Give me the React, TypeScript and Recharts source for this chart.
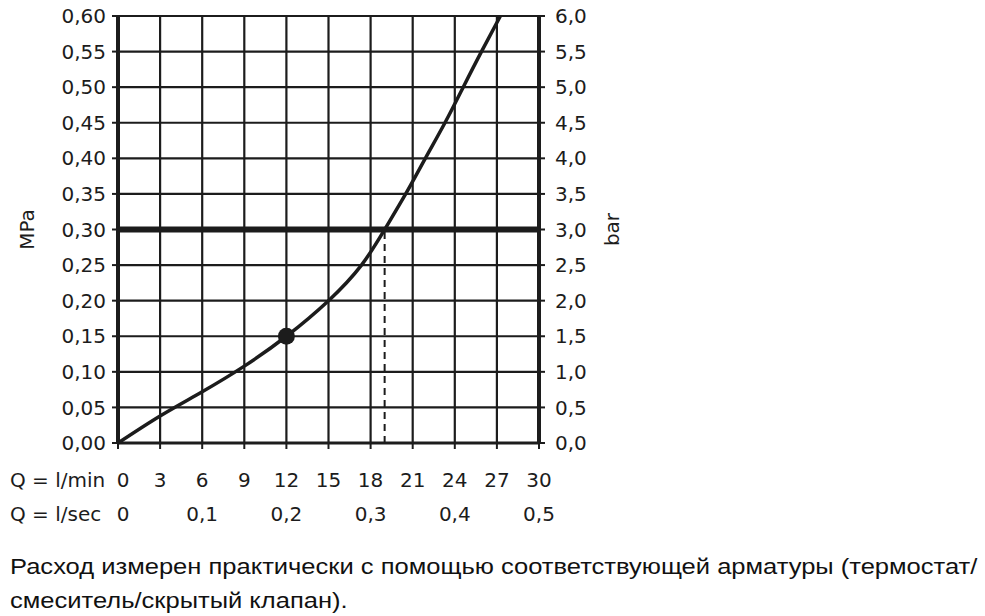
import React from "react";
import {
  CartesianGrid,
  Line,
  LineChart,
  ReferenceDot,
  ReferenceLine,
  XAxis,
  YAxis,
} from "recharts";

// Flow (l/min) vs. pressure (MPa).
const FLOW = [0, 3, 6, 9, 12, 15, 17.35, 19, 20.5, 21.9, 23.3, 24.6, 25.9, 27.25];
const MPA = [0, 0.038, 0.072, 0.108, 0.15, 0.2, 0.25, 0.3, 0.35, 0.4, 0.45, 0.5, 0.55, 0.6];

const FLOW_TICKS = [0, 3, 6, 9, 12, 15, 18, 21, 24, 27, 30];
const SEC_LABELS: Record<number, string> = {
  0: "0",
  6: "0,1",
  12: "0,2",
  18: "0,3",
  24: "0,4",
  30: "0,5",
};
const MPA_TICKS = [0, 0.05, 0.1, 0.15, 0.2, 0.25, 0.3, 0.35, 0.4, 0.45, 0.5, 0.55, 0.6];
const BAR_TICKS = [0, 0.5, 1, 1.5, 2, 2.5, 3, 3.5, 4, 4.5, 5, 5.5, 6];

const NOMINAL_MPA = 0.3; // thick reference line
const NOMINAL_FLOW = 19; // dashed drop line
const MARK = { q: 12, p: 0.15 };

const NOTE_1 = "Расход измерен практически с помощью соответствующей арматуры (термостат/";
const NOTE_2 = "смеситель/скрытый клапан).";

const data = FLOW.map((q, i) => ({ q, p: MPA[i] }));

const INK = "#1c1c1c";
const FONT = "'DejaVu Sans', sans-serif";
const TICK_SIZE = 20;
const comma = (v: number, d: number) => v.toFixed(d).replace(".", ",");

function FlowTick(props: any) {
  const { x, payload } = props;
  const v = payload.value as number;
  const dx = v === 0 ? 5 : 0;
  return (
    <g fontFamily={FONT} fontSize={TICK_SIZE} fill={INK}>
      {v === 0 && (
        <>
          <text x={10} y={487} textAnchor="start">Q = l/min</text>
          <text x={10} y={521} textAnchor="start">Q = l/sec</text>
        </>
      )}
      <text x={x + dx} y={487} textAnchor="middle">{v}</text>
      {SEC_LABELS[v] !== undefined && (
        <text x={x + dx} y={521} textAnchor="middle">{SEC_LABELS[v]}</text>
      )}
    </g>
  );
}

export default function App() {
  return (
    <div
      style={{
        position: "absolute",
        left: 0,
        top: 0,
        width: 985,
        height: 616,
        background: "#fff",
      }}
    >
      <LineChart
        width={985}
        height={540}
        data={data}
        margin={{ top: 16, left: 58, right: 386, bottom: 37 }}
      >
        <CartesianGrid yAxisId="mpa" stroke={INK} strokeWidth={2.2} />
        <XAxis
          dataKey="q"
          type="number"
          domain={[0, 30]}
          ticks={FLOW_TICKS}
          height={60}
          tickSize={6}
          axisLine={{ stroke: INK, strokeWidth: 3 }}
          tickLine={{ stroke: INK, strokeWidth: 2 }}
          tick={<FlowTick />}
          interval={0}
        />
        <YAxis
          yAxisId="mpa"
          type="number"
          domain={[0, 0.6]}
          ticks={MPA_TICKS}
          width={60}
          interval={0}
          tickSize={6}
          tickMargin={6}
          tickFormatter={(v: number) => comma(v, 2)}
          axisLine={{ stroke: INK, strokeWidth: 4 }}
          tickLine={{ stroke: INK, strokeWidth: 2 }}
          tick={{ fontFamily: FONT, fontSize: TICK_SIZE, fill: INK }}
          label={{
            value: "MPa",
            angle: -90,
            position: "insideLeft",
            offset: -31,
            style: { fontFamily: FONT, fontSize: 20, fill: INK, textAnchor: "middle" },
          }}
        />
        <YAxis
          yAxisId="bar"
          orientation="right"
          type="number"
          domain={[0, 6]}
          allowDataOverflow
          ticks={BAR_TICKS}
          width={60}
          interval={0}
          tickSize={6}
          tickMargin={10}
          tickFormatter={(v: number) => comma(v, 1)}
          axisLine={{ stroke: INK, strokeWidth: 4 }}
          tickLine={{ stroke: INK, strokeWidth: 2 }}
          tick={{ fontFamily: FONT, fontSize: TICK_SIZE, fill: INK }}
          label={{
            value: "bar",
            angle: -90,
            position: "insideRight",
            offset: -13,
            style: { fontFamily: FONT, fontSize: 20, fill: INK, textAnchor: "middle" },
          }}
        />
        <ReferenceLine
          yAxisId="mpa"
          y={NOMINAL_MPA}
          stroke={INK}
          strokeWidth={6}
        />
        <ReferenceLine
          yAxisId="mpa"
          segment={[
            { x: NOMINAL_FLOW, y: 0 },
            { x: NOMINAL_FLOW, y: NOMINAL_MPA },
          ]}
          stroke={INK}
          strokeWidth={2}
          strokeDasharray="7 5"
        />
        <Line
          yAxisId="mpa"
          dataKey="p"
          type="natural"
          stroke={INK}
          strokeWidth={3.5}
          dot={false}
          activeDot={false}
          isAnimationActive={false}
        />
        <ReferenceDot
          yAxisId="mpa"
          x={MARK.q}
          y={MARK.p}
          r={8.5}
          fill={INK}
          stroke="none"
        />
      </LineChart>
      <div
        style={{
          position: "absolute",
          left: 10,
          top: 550,
          fontFamily: "'Liberation Sans', Arial, sans-serif",
          fontSize: 22,
          lineHeight: "34px",
          color: "#111",
          whiteSpace: "nowrap",
          transform: "scaleX(1.16)",
          transformOrigin: "left top",
        }}
      >
        {NOTE_1}
        <br />
        {NOTE_2}
      </div>
    </div>
  );
}
